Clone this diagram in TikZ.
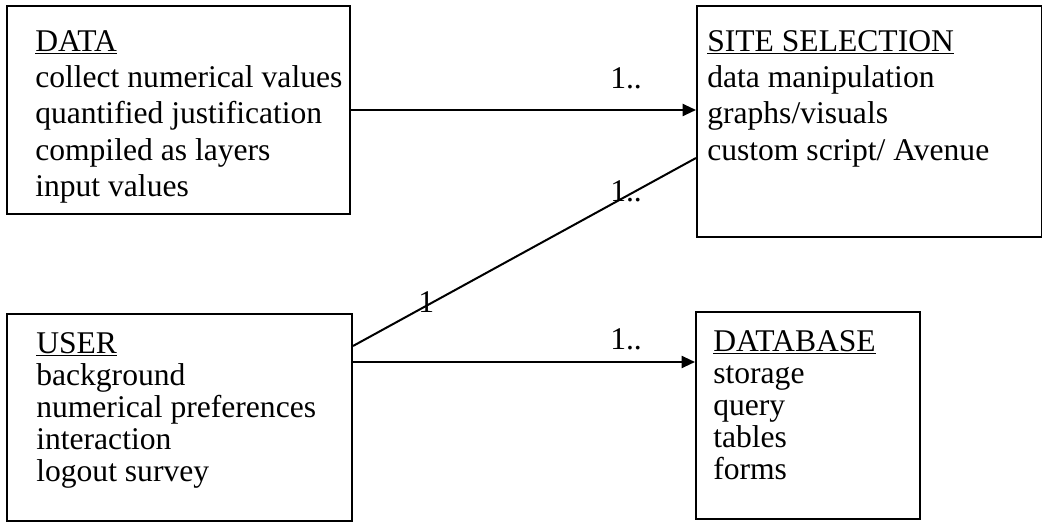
\documentclass[tikz,border=0pt]{standalone}
\usepackage{fontspec}
\setmainfont{Liberation Serif}
\usetikzlibrary{arrows.meta,calc,positioning}

\tikzset{
  box/.style={draw, line width=1.5pt, anchor=north west, inner sep=0pt},
  items/.style={anchor=north west, align=left, inner sep=0pt, font=\fontsize{23.7}{27.3}\selectfont},
  tightitems/.style={items, font=\fontsize{23.7}{24}\selectfont},
  mult/.style={anchor=base west, inner sep=0pt, font=\fontsize{23.7}{27}\selectfont},
  link/.style={line width=1.5pt},
  arrow/.style={link, -{Triangle[length=10pt,width=9pt]}},
}

\begin{document}
\begin{tikzpicture}[x=0.75pt, y=-0.75pt]
  \useasboundingbox (0,0) rectangle (1042,523);

  % Class boxes
  \node[box, minimum width=257.25pt, minimum height=156pt] (data) at (6,5) {};
  \node[box, minimum width=258.75pt, minimum height=173.25pt] (site) at (696,5) {};
  \node[box, minimum width=258.75pt, minimum height=155.25pt] (user) at (6,313) {};
  \node[box, minimum width=168pt, minimum height=155.25pt] (db) at (695,311) {};

  % Box contents
  \node[items] (datatext) at (35,30) {\underline{DATA}\\collect numerical values\\quantified justification\\compiled as layers\\input values};
  \node[items] (sitetext) at (707,30) {\underline{SITE SELECTION}\\data manipulation\\graphs/visuals\\custom script/ Avenue};
  \node[tightitems] (usertext) at (36,332) {\underline{USER}\\background\\numerical preferences\\interaction\\logout survey};
  \node[tightitems] (dbtext) at (713,330) {\underline{DATABASE}\\storage\\query\\tables\\forms};

  % Connector ends
  \coordinate (userup) at ($(user.north east)+(0,33)$);
  \coordinate (userout) at ($(user.north east)+(0,49)$);
  \coordinate (sitein) at ($(site.north west)+(0,153)$);

  % Connectors
  \draw[arrow] (data.east) -- (data.east -| site.west);
  \draw[link] (userup) -- (sitein);
  \draw[arrow] (userout) -- (userout -| db.west);

  % Multiplicities
  \node[mult] (datamult) at (610,89) {1..};
  \node[mult] (sitemult) at (610,202) {1..};
  \node[mult] (usermult) at (418,313) {1};
  \node[mult] (dbmult) at (610,350) {1..};
\end{tikzpicture}
\end{document}
